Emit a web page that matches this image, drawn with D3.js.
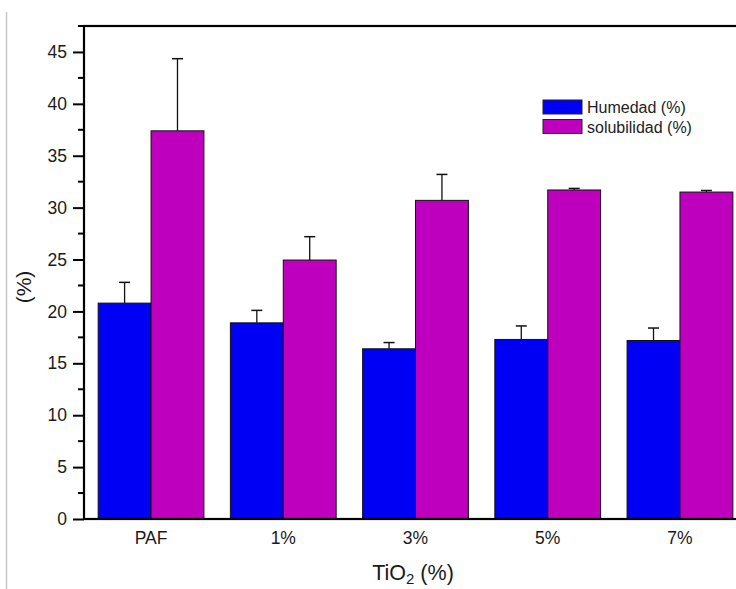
<!DOCTYPE html>
<html>
<head>
<meta charset="utf-8">
<script src="https://cdn.jsdelivr.net/npm/d3@7"></script>
<style>
  body { margin: 0; background: #fff; }
  svg { display: block; font-family: "Liberation Sans", Arial, sans-serif; }
</style>
</head>
<body>
<svg id="chart" width="736" height="589"></svg>
<script>
// data
const categories = ['PAF', '1%', '3%', '5%', '7%'];
const seriesNames = ['Humedad (%)', 'solubilidad (%)'];
const humedad = [20.8, 18.9, 16.4, 17.3, 17.2];
const humedadErr = [2.0, 1.2, 0.6, 1.3, 1.2];
const solubilidad = [37.4, 24.95, 30.7, 31.7, 31.5];
const solubilidadErr = [6.95, 2.25, 2.5, 0.15, 0.15];
const yTicks = [0, 5, 10, 15, 20, 25, 30, 35, 40, 45];
const colors = ['#0000f4', '#be00be'];

const svg = d3.select('#chart');
const margin = { left: 84, top: 26, right: -11, bottom: 70 },
  width = 736, height = 589;

const rows = categories.map((c, i) => ({
  cat: c,
  vals: [
    { key: 0, v: humedad[i], e: humedadErr[i] },
    { key: 1, v: solubilidad[i], e: solubilidadErr[i] }
  ]
}));

// thin grey line at the left edge of the scan
svg.append('line')
  .attr('x1', 6.5).attr('x2', 6.5).attr('y1', 12).attr('y2', height)
  .attr('stroke', '#c8c8c8').attr('stroke-width', 1.5);

const x = d3.scaleBand()
  .domain(categories)
  .range([margin.left, width - margin.right])
  .paddingInner(0.2)
  .paddingOuter(0.107);

const xSub = d3.scaleBand()
  .domain([0, 1])
  .range([0, x.bandwidth()]);

const y = d3.scaleLinear()
  .domain([0, 47.5])
  .range([height - margin.bottom, margin.top]);

// bars
const groups = svg.append('g')
  .selectAll('g')
  .data(rows)
  .join('g')
    .attr('transform', d => `translate(${x(d.cat)},0)`);

groups.selectAll('rect')
  .data(d => d.vals)
  .join('rect')
    .attr('x', d => xSub(d.key))
    .attr('y', d => y(d.v))
    .attr('width', xSub.bandwidth())
    .attr('height', d => y(0) - y(d.v))
    .attr('fill', d => colors[d.key])
    .attr('stroke', '#111')
    .attr('stroke-width', 1);

// error bars (upper half only)
const err = groups.selectAll('g.err')
  .data(d => d.vals)
  .join('g')
    .attr('class', 'err')
    .attr('transform', d => `translate(${xSub(d.key) + xSub.bandwidth() / 2},0)`);

err.append('line')
  .attr('y1', d => y(d.v)).attr('y2', d => y(d.v + d.e))
  .attr('stroke', '#111').attr('stroke-width', 1.3);
err.append('line')
  .attr('x1', -5.5).attr('x2', 5.5)
  .attr('y1', d => y(d.v + d.e)).attr('y2', d => y(d.v + d.e))
  .attr('stroke', '#111').attr('stroke-width', 1.5);

// frame
svg.append('rect')
  .attr('x', margin.left).attr('y', margin.top)
  .attr('width', width - margin.right - margin.left)
  .attr('height', y(0) - margin.top)
  .attr('fill', 'none').attr('stroke', '#000').attr('stroke-width', 2.2);

// y axis with minor ticks
const yAxis = svg.append('g')
  .attr('transform', `translate(${margin.left},0)`);
yAxis.call(d3.axisLeft(y).tickValues(yTicks).tickSize(11).tickPadding(6))
  .call(g => g.select('.domain').remove())
  .call(g => g.selectAll('.tick line').attr('stroke', '#000').attr('stroke-width', 2))
  .call(g => g.selectAll('.tick text').attr('font-size', 17.5).attr('fill', '#1a1a1a')
    .attr('font-family', '"Liberation Sans", Arial, sans-serif'));
yAxis.selectAll('line.minor')
  .data(yTicks.map(t => t + 2.5))
  .join('line')
    .attr('class', 'minor')
    .attr('x1', -6).attr('x2', 0)
    .attr('y1', d => y(d)).attr('y2', d => y(d))
    .attr('stroke', '#000').attr('stroke-width', 2);

// x axis labels
const xAxis = svg.append('g')
  .attr('transform', `translate(0,${y(0)})`);
xAxis.call(d3.axisBottom(x).tickSize(0).tickPadding(13))
  .call(g => g.select('.domain').remove())
  .call(g => g.selectAll('.tick text').attr('font-size', 17.5).attr('fill', '#1a1a1a')
    .attr('font-family', '"Liberation Sans", Arial, sans-serif'));

// axis titles
svg.append('text')
  .attr('transform', `translate(31,287) rotate(-90)`)
  .attr('text-anchor', 'middle')
  .attr('font-size', 21).attr('fill', '#1a1a1a')
  .text('(%)');

const xt = svg.append('text')
  .attr('x', 413).attr('y', 580)
  .attr('text-anchor', 'middle')
  .attr('font-size', 21.5).attr('fill', '#1a1a1a');
xt.append('tspan').text('TiO');
xt.append('tspan').attr('font-size', 15).attr('dy', 4).text('2');
xt.append('tspan').attr('dy', -4).text(' (%)');

// legend
const legend = svg.append('g')
  .attr('transform', 'translate(543,100)');
const li = legend.selectAll('g')
  .data(seriesNames)
  .join('g')
    .attr('transform', (d, i) => `translate(0,${i * 19.5})`);
li.append('rect')
  .attr('width', 39).attr('height', 14)
  .attr('fill', (d, i) => colors[i])
  .attr('stroke', '#222').attr('stroke-width', 1);
li.append('text')
  .attr('x', 44).attr('y', 13)
  .attr('font-size', 16).attr('fill', '#222')
  .text(d => d);
</script>
</body>
</html>
